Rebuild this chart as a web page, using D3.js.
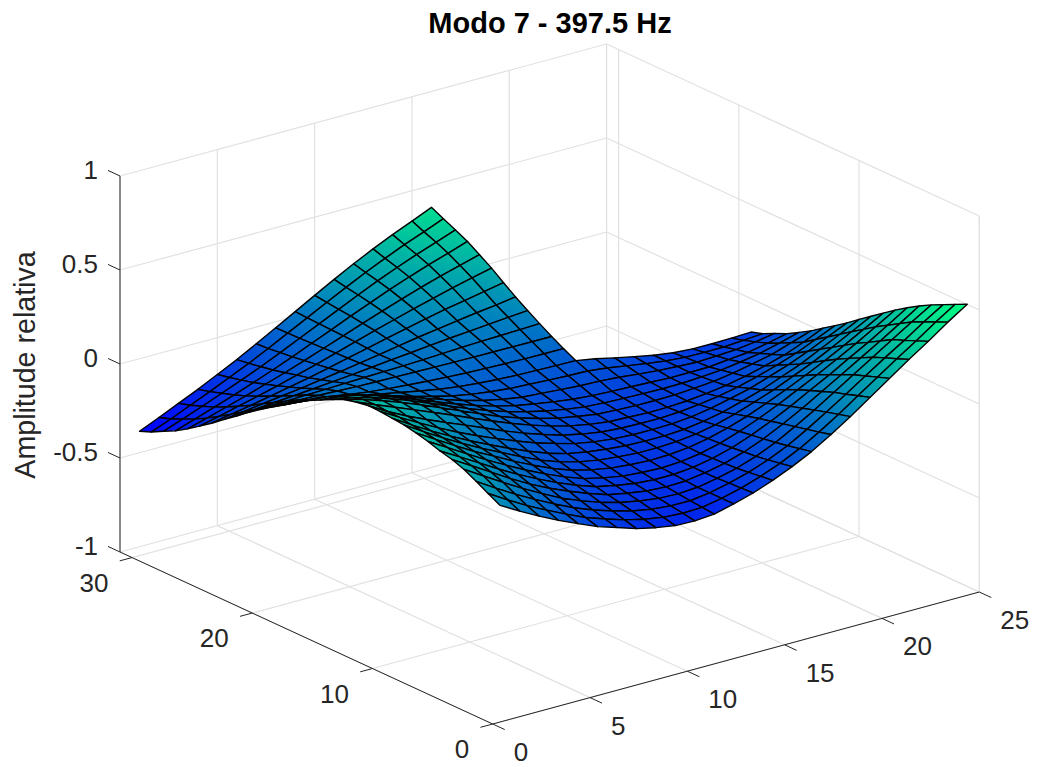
<!DOCTYPE html>
<html>
<head>
<meta charset="utf-8">
<style>
body { margin: 0; background: #fff; }
text { font-family: "Liberation Sans", Arial, sans-serif; }
</style>
<script src="https://cdnjs.cloudflare.com/ajax/libs/d3/7.8.5/d3.min.js"></script>
</head>
<body>
<svg id="chart" width="1037" height="767"></svg>
<script>
var titleText = "Modo 7 - 397.5 Hz";
var zLabelText = "Amplitude relativa";
var xTicks = [0, 5, 10, 15, 20, 25];
var yTicks = [0, 10, 20, 30];
var zTicks = [-1, -0.5, 0, 0.5, 1];
var zTickLabels = ["-1", "-0.5", "0", "0.5", "1"];

// surface heights, one row per y = 1..31, x = 1..25
// rows above y = 19 stop at x = 16, the plate has a corner cut out
var zRows = [
[.105,.047,-.008,-.059,-.104,-.148,-.181,-.215,-.238,-.255,-.258,-.25,-.224,-.194,-.155,-.11,-.058,.005,.072,.146,.219,.292,.36,.434,.501],
[.139,.077,.018,-.034,-.083,-.129,-.165,-.198,-.223,-.241,-.247,-.244,-.224,-.198,-.163,-.122,-.072,-.012,.054,.125,.196,.266,.333,.405,.471],
[.174,.11,.05,-.006,-.058,-.107,-.147,-.18,-.208,-.227,-.237,-.238,-.224,-.201,-.171,-.133,-.086,-.027,.037,.104,.173,.241,.306,.376,.44],
[.208,.145,.083,.023,-.033,-.085,-.128,-.164,-.193,-.213,-.227,-.231,-.224,-.205,-.179,-.144,-.098,-.042,.018,.084,.15,.215,.281,.346,.409],
[.231,.17,.108,.045,-.012,-.062,-.106,-.146,-.181,-.201,-.217,-.223,-.22,-.205,-.182,-.15,-.108,-.057,-.002,.059,.12,.182,.244,.308,.374],
[.247,.188,.128,.067,.01,-.042,-.09,-.132,-.168,-.189,-.207,-.215,-.215,-.205,-.185,-.157,-.118,-.072,-.021,.035,.09,.15,.207,.27,.335],
[.268,.207,.146,.086,.03,-.024,-.073,-.117,-.154,-.178,-.197,-.206,-.21,-.204,-.189,-.163,-.128,-.087,-.041,.01,.061,.116,.172,.232,.293],
[.284,.222,.16,.101,.048,-.006,-.056,-.102,-.139,-.165,-.184,-.194,-.2,-.197,-.187,-.168,-.14,-.105,-.064,-.02,.028,.078,.132,.189,.247],
[.297,.233,.172,.114,.06,.01,-.04,-.087,-.124,-.152,-.171,-.182,-.19,-.19,-.185,-.173,-.152,-.123,-.087,-.05,-.005,.04,.092,.147,.201],
[.304,.24,.18,.124,.071,.022,-.025,-.069,-.108,-.138,-.157,-.171,-.18,-.184,-.184,-.178,-.163,-.142,-.111,-.08,-.039,.001,.052,.103,.155],
[.31,.25,.193,.138,.087,.04,-.003,-.044,-.083,-.113,-.142,-.161,-.173,-.179,-.18,-.178,-.168,-.151,-.128,-.102,-.067,-.031,.012,.06,.107],
[.312,.252,.2,.153,.109,.067,.024,-.02,-.06,-.095,-.127,-.149,-.166,-.174,-.177,-.178,-.172,-.161,-.145,-.124,-.096,-.064,-.028,.017,.063],
[.301,.258,.217,.175,.133,.09,.046,.003,-.038,-.075,-.108,-.135,-.155,-.169,-.173,-.178,-.177,-.171,-.16,-.145,-.124,-.098,-.068,-.027,.02],
[.285,.256,.222,.184,.143,.1,.056,.012,-.03,-.066,-.097,-.123,-.143,-.159,-.165,-.169,-.17,-.168,-.162,-.152,-.137,-.116,-.093,-.059,-.024],
[.255,.236,.21,.175,.137,.095,.052,.01,-.028,-.062,-.091,-.115,-.134,-.149,-.156,-.16,-.163,-.165,-.164,-.158,-.15,-.135,-.117,-.091,-.062],
[.223,.212,.192,.161,.124,.084,.044,.005,-.031,-.062,-.088,-.107,-.124,-.138,-.147,-.152,-.156,-.16,-.165,-.164,-.163,-.152,-.142,-.121,-.098],
[.191,.183,.165,.137,.105,.069,.034,-.001,-.034,-.062,-.084,-.101,-.108,-.116,-.124,-.127,-.135,-.146,-.156,-.162,-.167,-.162,-.156,-.143,-.126],
[.151,.144,.126,.103,.075,.045,.015,-.014,-.039,-.059,-.073,-.084,-.089,-.095,-.1,-.103,-.115,-.132,-.148,-.162,-.171,-.172,-.172,-.165,-.157],
[.108,.101,.087,.069,.048,.027,.006,-.014,-.033,-.047,-.057,-.065,-.07,-.073,-.076,-.077,-.095,-.119,-.14,-.161,-.176,-.183,-.184,-.182,-.178],
[.068,.06,.049,.035,.022,.008,-.003,-.012,-.02,-.026,-.032,-.036,-.039,-.041,-.042,-.043],
[.024,.022,.019,.015,.011,.006,.004,.002,0,-.002,-.004,-.005,-.006,-.007,-.008,-.008],
[-.021,-.018,-.016,-.012,-.01,-.006,-.003,0,.003,.007,.012,.017,.021,.024,.027,.031],
[-.07,-.062,-.053,-.045,-.036,-.026,-.017,-.006,.005,.015,.026,.036,.045,.054,.063,.071],
[-.117,-.104,-.09,-.076,-.062,-.046,-.03,-.013,.004,.022,.04,.055,.071,.086,.099,.114],
[-.166,-.147,-.128,-.107,-.086,-.065,-.041,-.017,.007,.032,.056,.08,.102,.121,.141,.16],
[-.211,-.187,-.161,-.136,-.109,-.08,-.051,-.019,.012,.044,.074,.104,.132,.159,.184,.208],
[-.255,-.226,-.195,-.164,-.13,-.097,-.061,-.023,.015,.053,.09,.126,.16,.192,.221,.25],
[-.295,-.261,-.225,-.189,-.151,-.112,-.07,-.026,.017,.062,.105,.147,.186,.223,.256,.291],
[-.327,-.289,-.25,-.209,-.167,-.124,-.077,-.029,.02,.069,.117,.164,.207,.248,.285,.323],
[-.36,-.319,-.274,-.23,-.183,-.136,-.085,-.031,.022,.076,.128,.179,.226,.271,.311,.353],
[-.386,-.341,-.294,-.247,-.196,-.145,-.089,-.032,.026,.084,.141,.196,.247,.295,.339,.384]
];

var xMax = 25, yMax = 31;

var svg = d3.select("#chart");
var defs = svg.append("defs");

// oblique box: each data axis gets its own screen vector
var xToPx = d3.scaleLinear().domain([0, xMax]).range([0, 486.6]);
var xToPy = d3.scaleLinear().domain([0, xMax]).range([0, -132]);
var yToPx = d3.scaleLinear().domain([0, yMax]).range([0, -372.7]);
var yToPy = d3.scaleLinear().domain([0, yMax]).range([0, -172]);
var zToPy = d3.scaleLinear().domain([-1, 1]).range([0, -376]);

var originX = 492.7, originY = 724;

function project(x, y, z) {
    return [originX + xToPx(x) + yToPx(y), originY + xToPy(x) + yToPy(y) + zToPy(z)];
}

var allZ = d3.merge(zRows);
var zMin = d3.min(allZ), zMax = d3.max(allZ);
// winter colormap
var colour = d3.scaleLinear().domain([zMin, zMax]).range(["rgb(0,0,255)", "rgb(0,255,128)"]);

function line3d(g, a, b, stroke, width) {
    var p = project(a[0], a[1], a[2]), q = project(b[0], b[1], b[2]);
    g.append("line")
        .attr("x1", p[0]).attr("y1", p[1])
        .attr("x2", q[0]).attr("y2", q[1])
        .attr("stroke", stroke)
        .attr("stroke-width", width);
}

// grid on the floor and the two back walls
var gridGroup = svg.append("g");
var gridColour = "#e1e1e1";
xTicks.forEach(function(x) {
    line3d(gridGroup, [x, 0, -1], [x, yMax, -1], gridColour, 1.2);
    line3d(gridGroup, [x, yMax, -1], [x, yMax, 1], gridColour, 1.2);
});
yTicks.forEach(function(y) {
    line3d(gridGroup, [0, y, -1], [xMax, y, -1], gridColour, 1.2);
    line3d(gridGroup, [xMax, y, -1], [xMax, y, 1], gridColour, 1.2);
});
zTicks.forEach(function(z) {
    line3d(gridGroup, [0, yMax, z], [xMax, yMax, z], gridColour, 1.2);
    line3d(gridGroup, [xMax, yMax, z], [xMax, 0, z], gridColour, 1.2);
});
line3d(gridGroup, [xMax, 0, -1], [xMax, 0, 1], gridColour, 1.2);

// surface, drawn back to front
var cells = [];
for (var j = zRows.length - 2; j >= 0; j--) {
    for (var i = zRows[j + 1].length - 2; i >= 0; i--) {
        cells.push({
            id: "c" + i + "_" + j,
            pts: [
                [i + 1, j + 1, zRows[j][i]],
                [i + 2, j + 1, zRows[j][i + 1]],
                [i + 2, j + 2, zRows[j + 1][i + 1]],
                [i + 1, j + 2, zRows[j + 1][i]]
            ]
        });
    }
}

cells.forEach(function(c) {
    var lo = d3.least(c.pts, d => d[2]), hi = d3.greatest(c.pts, d => d[2]);
    var a = project(lo[0], lo[1], lo[2]), b = project(hi[0], hi[1], hi[2]);
    var grad = defs.append("linearGradient")
        .attr("id", c.id)
        .attr("gradientUnits", "userSpaceOnUse")
        .attr("x1", a[0]).attr("y1", a[1])
        .attr("x2", b[0]).attr("y2", b[1]);
    grad.append("stop").attr("offset", 0).attr("stop-color", colour(lo[2]));
    grad.append("stop").attr("offset", 1).attr("stop-color", colour(hi[2]));
});

var pathLine = d3.line();
svg.append("g").selectAll("path")
    .data(cells)
    .enter()
    .append("path")
    .attr("d", d => pathLine(d.pts.map(p => project(p[0], p[1], p[2]))) + "Z")
    .attr("fill", d => "url(#" + d.id + ")")
    .attr("stroke", "#000")
    .attr("stroke-width", 1.4)
    .attr("stroke-linejoin", "round");

// axes lines and ticks
var axisGroup = svg.append("g");
var axisColour = "#262626";
line3d(axisGroup, [0, yMax, -1], [0, yMax, 1], axisColour, 1);
line3d(axisGroup, [0, yMax, -1], [0, 0, -1], axisColour, 1);
line3d(axisGroup, [0, 0, -1], [xMax, 0, -1], axisColour, 1);

zTicks.forEach(function(z) {
    line3d(axisGroup, [0, yMax, z], [0, yMax + 1, z], axisColour, 1);
});
yTicks.forEach(function(y) {
    line3d(axisGroup, [0, y, -1], [-0.63, y, -1], axisColour, 1);
});
xTicks.forEach(function(x) {
    line3d(axisGroup, [x, 0, -1], [x, -1, -1], axisColour, 1);
});

// tick labels
var tickFont = 26;
function tickLabel(text, p, dx, dy, anchor) {
    svg.append("text")
        .attr("x", p[0] + dx)
        .attr("y", p[1] + dy)
        .attr("text-anchor", anchor)
        .attr("font-size", tickFont)
        .attr("fill", axisColour)
        .text(text);
}
zTicks.forEach(function(z, k) {
    tickLabel(zTickLabels[k], project(0, yMax, z), -22, 3, "end");
});
yTicks.forEach(function(y) {
    tickLabel(y, project(0, y, -1), -23.5, 34, "end");
});
xTicks.forEach(function(x) {
    tickLabel(x, project(x, 0, -1), 21, 37, "start");
});

svg.append("text")
    .attr("transform", "translate(35,365) rotate(-90)")
    .attr("text-anchor", "middle")
    .attr("font-size", 28.6)
    .attr("fill", axisColour)
    .text(zLabelText);

svg.append("text")
    .attr("x", 550)
    .attr("y", 32.5)
    .attr("text-anchor", "middle")
    .attr("font-size", 29)
    .attr("font-weight", "bold")
    .attr("fill", "#000")
    .text(titleText);
</script>
</body>
</html>
